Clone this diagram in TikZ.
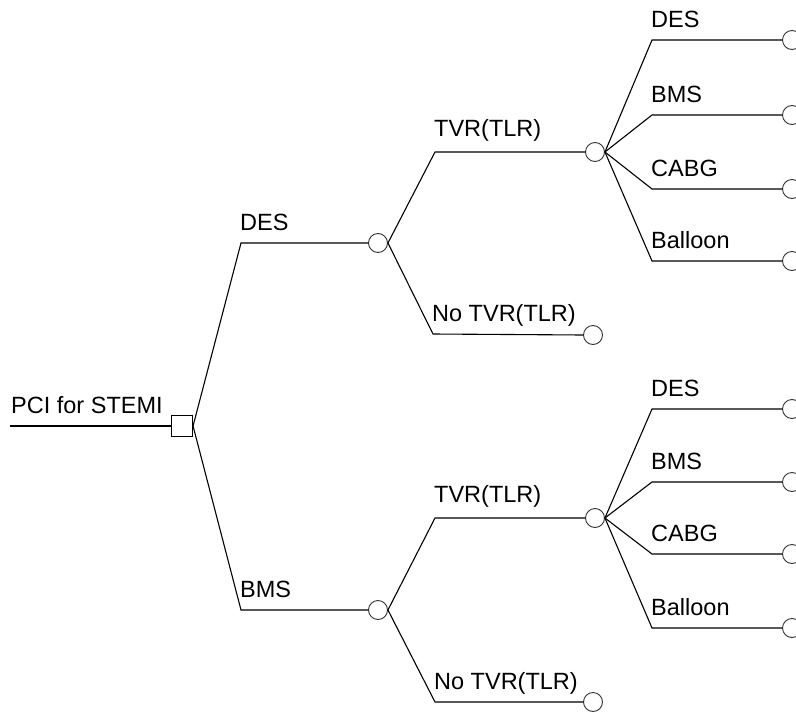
\documentclass[tikz,border=0pt]{standalone}
\usepackage{fontspec}
\setmainfont{Liberation Sans}
\usetikzlibrary{positioning}

\begin{document}
\begin{tikzpicture}[x=1pt, y=-1pt,
  decision/.style={draw, rectangle, minimum size=21pt, inner sep=0pt, line width=1.1pt},
  chance/.style={draw, circle, minimum size=19pt, inner sep=0pt, line width=0.9pt, black!80},
  branch/.style={line width=1.1pt},
  lbl/.style={anchor=base west, inner sep=0pt, font=\fontsize{23.5}{26}\selectfont}]
  \clip (0,0) rectangle (796,715);

  % root
  \coordinate (in) at (10,426);
  \node[decision] (root) at (182,426) {};
  \node[lbl] (tRoot) at (11,413) {PCI for STEMI};
  \draw[branch] (in) -- (root.west);

  % first strategy
  \coordinate (eDES) at (241,243);
  \node[chance] (cDES) at (378,243) {};
  \node[lbl] (tDES) at (240,230) {DES};
  \draw[branch] (root.east) -- (eDES) -- (cDES.west);

  \coordinate (eTvrA) at (435,152);
  \node[chance] (cTvrA) at (595,152) {};
  \node[lbl] (tTvrA) at (434,136) {TVR(TLR)};
  \draw[branch] (cDES.east) -- (eTvrA) -- (cTvrA.west);

  \coordinate (eNoA) at (433,334);
  \node[chance] (cNoA) at (593,335) {};
  \node[lbl] (tNoA) at (432,321) {No TVR(TLR)};
  \draw[branch] (cDES.east) -- (eNoA) -- (cNoA.west);

  % redo after TVR (first strategy)
  \coordinate (eA1) at (652,40);
  \coordinate (eA2) at (652,115);
  \coordinate (eA3) at (652,189);
  \coordinate (eA4) at (652,261);
  \node[chance] (cA1) at (792,40) {};
  \node[chance] (cA2) at (792,115) {};
  \node[chance] (cA3) at (792,189) {};
  \node[chance] (cA4) at (792,261) {};
  \node[lbl] (tA1) at (651,27) {DES};
  \node[lbl] (tA2) at (651,102) {BMS};
  \node[lbl] (tA3) at (651,176) {CABG};
  \node[lbl] (tA4) at (651,248) {Balloon};
  \draw[branch] (cTvrA.east) -- (eA1) -- (cA1.west);
  \draw[branch] (cTvrA.east) -- (eA2) -- (cA2.west);
  \draw[branch] (cTvrA.east) -- (eA3) -- (cA3.west);
  \draw[branch] (cTvrA.east) -- (eA4) -- (cA4.west);

  % second strategy
  \coordinate (eBMS) at (241,610);
  \node[chance] (cBMS) at (378,610) {};
  \node[lbl] (tBMS) at (240,597) {BMS};
  \draw[branch] (root.east) -- (eBMS) -- (cBMS.west);

  \coordinate (eTvrB) at (435,518);
  \node[chance] (cTvrB) at (595,518) {};
  \node[lbl] (tTvrB) at (434,502) {TVR(TLR)};
  \draw[branch] (cBMS.east) -- (eTvrB) -- (cTvrB.west);

  \coordinate (eNoB) at (435,702);
  \node[chance] (cNoB) at (593,702) {};
  \node[lbl] (tNoB) at (434,689) {No TVR(TLR)};
  \draw[branch] (cBMS.east) -- (eNoB) -- (cNoB.west);

  % redo after TVR (second strategy)
  \coordinate (eB1) at (652,409);
  \coordinate (eB2) at (652,482);
  \coordinate (eB3) at (652,554);
  \coordinate (eB4) at (652,628);
  \node[chance] (cB1) at (792,409) {};
  \node[chance] (cB2) at (792,482) {};
  \node[chance] (cB3) at (792,554) {};
  \node[chance] (cB4) at (792,628) {};
  \node[lbl] (tB1) at (651,396) {DES};
  \node[lbl] (tB2) at (651,469) {BMS};
  \node[lbl] (tB3) at (651,541) {CABG};
  \node[lbl] (tB4) at (651,615) {Balloon};
  \draw[branch] (cTvrB.east) -- (eB1) -- (cB1.west);
  \draw[branch] (cTvrB.east) -- (eB2) -- (cB2.west);
  \draw[branch] (cTvrB.east) -- (eB3) -- (cB3.west);
  \draw[branch] (cTvrB.east) -- (eB4) -- (cB4.west);
\end{tikzpicture}
\end{document}
